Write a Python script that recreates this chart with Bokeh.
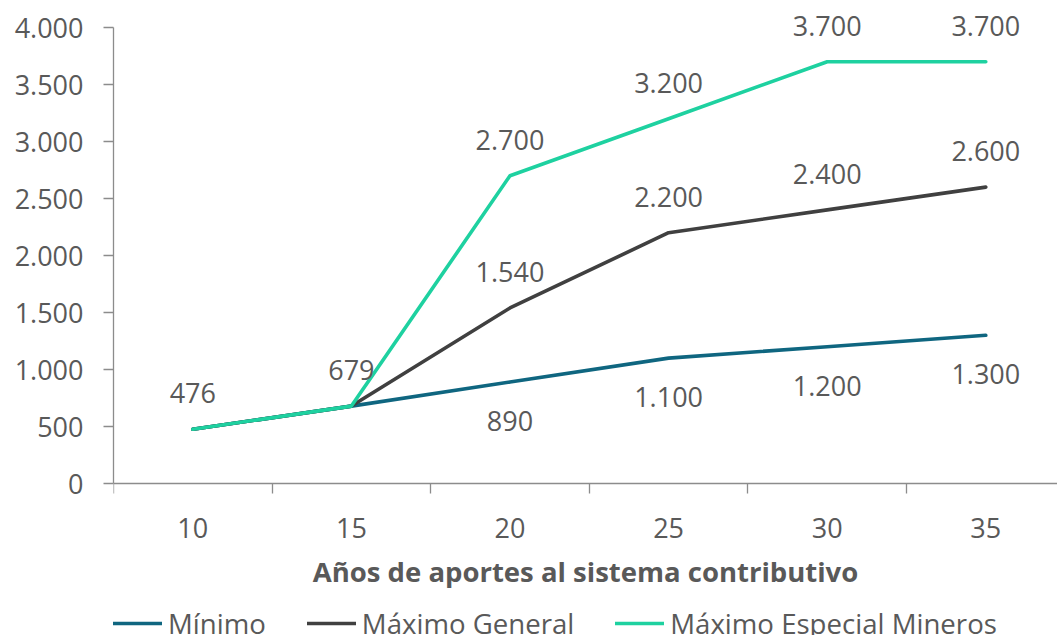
from bokeh.plotting import figure
from bokeh.models import (FixedTicker, Legend, LegendItem, Range1d,
                          ColumnDataSource, LabelSet)
from bokeh.core.properties import value
from bokeh.embed import file_html
from bokeh.resources import INLINE

# Pension amounts by years of contributions
years = [10, 15, 20, 25, 30, 35]
minimo = [476, 679, 890, 1100, 1200, 1300]
maximo_general = [476, 679, 1540, 2200, 2400, 2600]
maximo_mineros = [476, 679, 2700, 3200, 3700, 3700]

series_names = ["Mínimo", "Máximo General", "Máximo Especial Mineros"]
y_ticks = [0, 500, 1000, 1500, 2000, 2500, 3000, 3500, 4000]
axis_title = "Años de aportes al sistema contributivo"

FONT = "Open Sans"
TEXT = "#595959"
AXIS = "#8c8c8c"
COLORS = ["#0f6680", "#404040", "#1ed1a0"]

# pixel scale of the value axis (456 px for 0..4000); the frame keeps
# 27 px of headroom above 4.000 and 152 px below 0 for titles and legend
PX_PER_UNIT = 456 / 4000
Y_TOP = 4000 + 27 / PX_PER_UNIT
Y_BOTTOM = -152 / PX_PER_UNIT


def fmt(v):
    return f"{v:,}".replace(",", ".")


p = figure(frame_width=944, frame_height=635,
           x_range=Range1d(7.5, 7.5 + 944 / 158.6 * 5),
           y_range=Range1d(Y_BOTTOM, Y_TOP),
           output_backend="svg", toolbar_location=None,
           min_border_left=113, min_border_right=0,
           min_border_top=0, min_border_bottom=0)
p.outline_line_color = None
p.grid.visible = False
p.background_fill_color = "white"
p.border_fill_color = "white"

# category-style x axis drawn at value 0: labels at the points,
# tick marks between them
p.xaxis.fixed_location = 0
p.xaxis.ticker = FixedTicker(ticks=years,
                             minor_ticks=[y - 2.5 for y in years] + [years[-1] + 2.5])
p.xaxis.major_label_overrides = {y: str(y) for y in years}
p.xaxis.major_tick_out = 0
p.xaxis.major_tick_in = 0
p.xaxis.minor_tick_out = 10
p.xaxis.minor_tick_in = 0
p.xaxis.minor_tick_line_color = AXIS
p.xaxis.major_label_standoff = 24
p.xaxis.axis_label = axis_title
p.xaxis.axis_label_standoff = 12

p.yaxis.ticker = FixedTicker(ticks=y_ticks, minor_ticks=[])
p.yaxis.bounds = (0, 4000)
p.yaxis.major_label_overrides = {t: fmt(t) for t in y_ticks}
p.yaxis.major_tick_out = 10
p.yaxis.major_tick_in = 0
p.yaxis.minor_tick_out = 0
p.yaxis.minor_tick_in = 0
p.yaxis.major_label_standoff = 20

for ax in (p.xaxis, p.yaxis):
    ax.axis_line_color = AXIS
    ax.axis_line_width = 1.3
    ax.major_tick_line_color = AXIS
    ax.major_tick_line_width = 1.3
    ax.minor_tick_line_width = 1.3
    ax.major_label_text_font = FONT
    ax.major_label_text_font_size = "27px"
    ax.major_label_text_color = TEXT
p.xaxis.axis_label_text_font = FONT
p.xaxis.axis_label_text_font_size = "27.5px"
p.xaxis.axis_label_text_font_style = "bold"
p.xaxis.axis_label_text_color = TEXT

series = [minimo, maximo_general, maximo_mineros]
renderers = []
for vals, color in zip(series, COLORS):
    r = p.line(years, vals, line_color=color, line_width=3.6,
               line_cap="round", line_join="round")
    renderers.append(r)

# data labels: which points carry a label and on which side
label_points = [([2, 3, 4, 5], -39), ([2, 3, 4, 5], 36), ([0, 1, 2, 3, 4, 5], 36)]
for vals, (idx, off) in zip(series, label_points):
    src = ColumnDataSource(dict(x=[years[i] for i in idx],
                                y=[vals[i] for i in idx],
                                t=[fmt(vals[i]) for i in idx]))
    p.add_layout(LabelSet(x="x", y="y", text="t", source=src, y_offset=off,
                          text_align="center", text_baseline="middle",
                          text_font=value(FONT), text_font_size=value("27px"),
                          text_color=value(TEXT)))

legend = Legend(items=[LegendItem(label=n, renderers=[r])
                       for n, r in zip(series_names, renderers)],
                orientation="horizontal", location=(0, -7),
                glyph_width=49, glyph_height=30, label_height=30,
                label_standoff=6, spacing=41, padding=0, margin=0,
                border_line_color=None, background_fill_alpha=0,
                label_text_font=FONT, label_text_font_size="27.6px",
                label_text_color=TEXT)
p.add_layout(legend)

open("out.html", "w").write(file_html(p, INLINE))
